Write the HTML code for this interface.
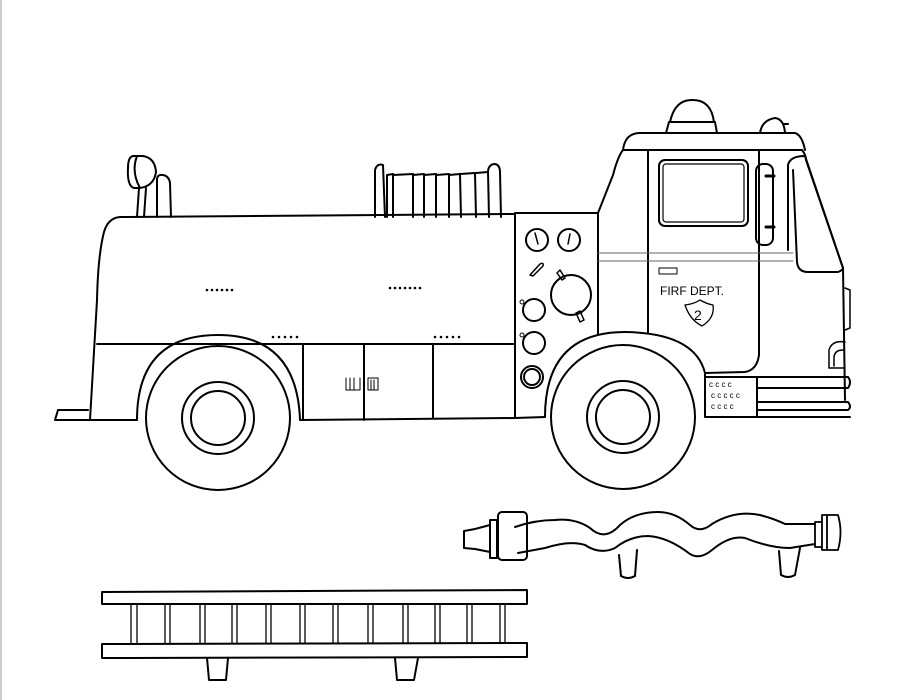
<!DOCTYPE html>
<html><head><style>html,body{margin:0;padding:0;background:#fff}svg{display:block}</style></head>
<body>
<svg width="906" height="700" viewBox="0 0 906 700" xmlns="http://www.w3.org/2000/svg" fill="none" stroke="#000" stroke-width="2" stroke-linejoin="round" stroke-linecap="round">
<line x1="1" y1="0" x2="1" y2="700" stroke="#999" stroke-width="1"/>
<!-- exhaust + light -->
<path d="M137 217 L139 188 M144 217 L146 188 M157 217 L157 180 Q157 174 163 175 Q169 176 170 183 L171 217"/>
<path d="M133 156 Q128 157 128 168 Q127 186 134 188 L140 188 Q154 186 156 172 Q155 158 143 156 Z M137 156 Q131 172 140 188"/>
<!-- hose rack top -->
<path d="M375 217 L375 170 Q377 163 383 165 L385 217 M387 217 L387 175 L393 174 L393 217 M393 175 L413 174 L413 217 M413 175 L424 174 L424 217 M424 175 L436 174 L436 217 M436 175 L449 174 L449 217 M449 175 L460 174 L461 217 M460 174 L475 173 L476 217 M476 173 L488 172 L489 217 M489 217 L488 171 Q489 164 495 164 Q500 165 500 172 L501 217"/>
<!-- tank body -->
<path d="M120 217 L515 214 M120 217 Q108 218 104 232 Q98 255 97 300 L90 420 L137 420"/>
<path d="M97 344 L515 344"/>
<path d="M137 420 Q137 335 218 335 Q297 335 300 420 L515 418"/>
<path d="M303 344 L303 420 M364 344 L364 420 M433 344 L433 418 M515 214 L515 418"/>
<path d="M55 420 L90 420 M55 420 L58 410 L88 410"/>
<g fill="#000" stroke="none">
<circle cx="207" cy="290" r="1.3"/><circle cx="212" cy="290" r="1.3"/><circle cx="217" cy="290" r="1.3"/><circle cx="222" cy="290" r="1.3"/><circle cx="227" cy="290" r="1.3"/><circle cx="232" cy="290" r="1.3"/>
<circle cx="390" cy="288" r="1.3"/><circle cx="395" cy="288" r="1.3"/><circle cx="400" cy="288" r="1.3"/><circle cx="405" cy="288" r="1.3"/><circle cx="410" cy="288" r="1.3"/><circle cx="415" cy="288" r="1.3"/><circle cx="420" cy="288" r="1.3"/>
<circle cx="273" cy="337" r="1.3"/><circle cx="279" cy="337" r="1.3"/><circle cx="285" cy="337" r="1.3"/><circle cx="291" cy="337" r="1.3"/><circle cx="297" cy="337" r="1.3"/>
<circle cx="435" cy="337" r="1.3"/><circle cx="441" cy="337" r="1.3"/><circle cx="447" cy="337" r="1.3"/><circle cx="453" cy="337" r="1.3"/><circle cx="459" cy="337" r="1.3"/>
</g>
<path d="M346 378 L346 390 L360 390 L360 378 M350 378 L350 390 M354 378 L354 390 M368 378 L368 390 L378 390 L378 378 L368 378 M371 380 L371 390 M374 380 L374 390" stroke-width="1"/>
<!-- rear wheel -->
<circle cx="218" cy="418" r="72" fill="#fff"/>
<circle cx="218" cy="418" r="36"/>
<circle cx="218" cy="418" r="27"/>
<!-- panel -->
<path d="M515 213 L598 213 L598 340 M515 418 L545 417"/>
<circle cx="537" cy="240" r="11"/><path d="M535 233 L538 244" stroke-width="1.5"/>
<circle cx="569" cy="240" r="11"/><path d="M570 234 L568 244" stroke-width="1.5"/>
<path d="M530 275 L540 264 Q544 262 543 266 L533 276 Z" stroke-width="1.5"/>
<circle cx="571" cy="295" r="20"/>
<path d="M557 273 L560 270 L565 278 L562 280 Z M576 313 L580 311 L584 320 L580 322 Z" stroke-width="1.5"/>
<circle cx="534" cy="310" r="11"/><circle cx="522" cy="302" r="2" stroke-width="1"/>
<circle cx="534" cy="343" r="11"/><circle cx="522" cy="335" r="2" stroke-width="1"/>
<circle cx="532" cy="377" r="11"/><circle cx="532" cy="377" r="8"/>
<!-- cab -->
<path d="M598 213 L613 175 Q618 156 623 150 L802 150"/>
<path d="M623 150 Q625 133 640 133 L795 133 Q802 135 805 150"/>
<path d="M666 133 L669 122 L715 122 L717 133 M670 122 Q675 99 693 100 Q711 100 714 122"/>
<path d="M760 133 Q762 120 775 118 Q784 119 785 133 M784 124 L788 124"/>
<path d="M802 150 Q806 155 806 160 L843 268 L845 400"/>
<path d="M648 150 L648 333 M759 150 L759 355 Q757 370 745 372 L705 373"/>
<rect x="659" y="160" width="89" height="66" rx="6"/>
<rect x="663" y="164" width="81" height="58" rx="3" stroke-width="1.2"/>
<rect x="756" y="164" width="17" height="81" rx="7"/>
<path d="M766 176 L774 176 M766 227 L774 227" stroke-width="3"/>
<path d="M788 250 L788 165 Q790 156 805 156 L843 268 Q843 270 838 272 L808 272 Q798 272 797 262 L793 170" />
<path d="M598 253 L793 253 M598 261 L793 261" stroke-width="1" stroke="#666"/>
<rect x="659" y="268" width="18" height="6" stroke-width="1"/>
<text x="660" y="295" fill="#000" stroke="none" font-family="Liberation Sans,sans-serif" font-size="12">FIRF DEPT.</text>
<path d="M685 305 Q694 304 700 300 Q707 304 713 305 Q715 318 702 326 Q690 320 685 305 Z" stroke-width="1.3"/>
<text x="694" y="320" fill="#000" stroke="none" font-family="Liberation Sans,sans-serif" font-size="14">2</text>
<path d="M845 288 L850 290 L850 328 L845 330" stroke-width="1.5"/>
<path d="M845 342 Q832 340 829 350 L829 368 L845 368 M843 350 Q834 350 834 358 L834 366" stroke-width="1.5"/>
<!-- front arch and bumper -->
<path d="M545 417 Q545 332 625 332 Q695 333 705 373 L705 417 Z" fill="#fff" stroke="none"/>
<path d="M545 417 Q545 332 625 332 Q695 333 705 373"/>
<path d="M705 373 L705 417 L850 417 M757 377 L757 417 M705 377 L848 377 Q852 382 848 388 L757 388 M757 402 L848 402 Q852 407 848 410 L757 410"/>
<g fill="#000" stroke="none" font-family="Liberation Sans,sans-serif" font-size="8">
<text x="709" y="387">c c c c</text><text x="711" y="398">c c c c c</text><text x="711" y="409">c c c c</text>
</g>
<circle cx="623" cy="417" r="72" fill="#fff"/>
<circle cx="623" cy="417" r="36"/>
<circle cx="623" cy="417" r="27"/>
<!-- hose -->
<path d="M515 527 Q535 520 555 520 Q575 518 590 528 Q605 542 620 525 Q635 512 658 512 Q675 512 690 525 Q700 534 712 524 Q735 510 760 515 Q775 519 785 524 L815 524"/>
<path d="M518 553 L545 548 Q570 540 585 545 Q600 555 615 548 Q630 536 648 536 Q668 537 690 554 Q700 560 712 550 Q730 535 745 538 Q770 548 790 548 L815 544"/>
<path d="M464 531 L475 529 L490 525 L490 552 L475 549 L464 548 Z M464 531 L464 548 M490 520 L497 520 L497 558 L490 558 Z"/>
<rect x="498" y="512" width="29" height="48" rx="4"/>
<path d="M815 522 L822 522 L822 547 L815 547 Z M822 515 L838 515 Q843 532 838 550 L822 550 Z M827 515 L827 550" stroke-width="1.8"/>
<path d="M619 555 L621 576 Q628 580 635 576 L637 550 M779 551 L781 575 Q788 579 795 575 L800 548"/>
<!-- ladder -->
<path d="M102 592 L527 590 L527 604 L102 604 Z M102 644 L527 643 L527 657 L102 658 Z"/>
<g stroke-width="1.3">
<path d="M131 604 L131 643 M137 604 L137 643 M165 604 L165 643 M170 604 L170 643 M200 604 L200 643 M205 604 L205 643 M232 604 L232 643 M237 604 L237 643 M266 604 L266 643 M271 604 L271 643 M300 604 L300 643 M305 604 L305 643 M333 604 L333 643 M338 604 L338 643 M368 604 L368 643 M373 604 L373 643 M403 604 L403 643 M408 604 L408 643 M435 604 L435 643 M440 604 L440 643 M467 604 L467 643 M472 604 L472 643 M500 604 L500 643 M505 604 L505 643"/>
</g>
<path d="M207 658 L209 680 L226 680 L228 658 M395 658 L397 680 L414 680 L418 658"/>
</svg>
</body></html>
